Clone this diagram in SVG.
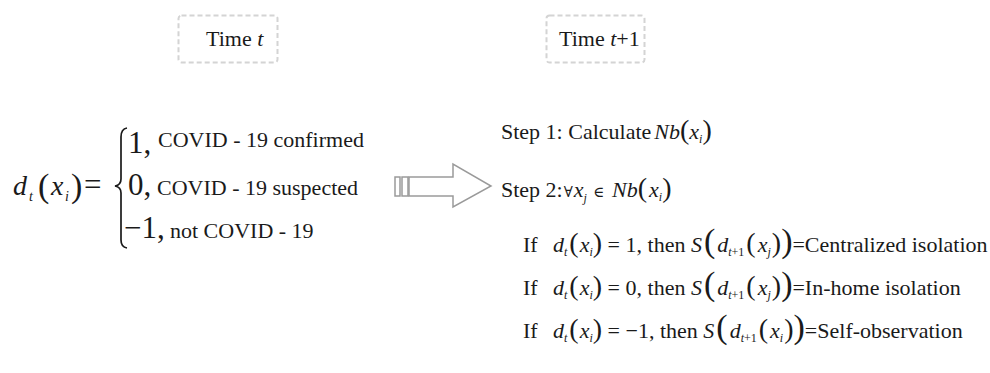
<svg xmlns="http://www.w3.org/2000/svg" width="990" height="373" viewBox="0 0 990 373">
<style>
text{font-family:"Liberation Serif","Times New Roman",serif;fill:#1a1a1a;font-size:22px}
.it{font-style:italic}
.m{font-size:31px}
.mv{font-size:28px;font-style:italic}
.sb{font-size:14px;font-style:italic}
.s{font-size:12px;font-style:italic}
.sn{font-size:12px}
.p{font-size:28px}
.P{font-size:34px}
.sym{font-family:"DejaVu Serif",serif;font-size:15px}
.box{fill:none;stroke:#d4d4d4;stroke-width:2;stroke-dasharray:5,3}
.arr{fill:#fff;stroke:#9a9a9a;stroke-width:1.5}
</style>
<rect width="990" height="373" fill="#fff"/>
<g id="time-t">
<rect class="box" x="178.5" y="15.5" width="99" height="47" rx="3"/>
<text x="206" y="46">Time <tspan class="it">t</tspan></text>
</g>
<g id="time-t1">
<rect class="box" x="546.5" y="15.5" width="98" height="47" rx="3"/>
<text x="559" y="46">Time <tspan class="it">t</tspan>+1</text>
</g>
<g id="definition">
<text x="13" y="195" class="mv">d</text>
<text x="29" y="201" class="sb">t</text>
<text x="38" y="197" class="P">(</text>
<text x="51" y="195" class="mv">x</text>
<text x="65" y="201" class="sb">i</text>
<text x="71" y="197" class="P">)</text>
<text x="84" y="195" class="m">=</text>
<path d="M127,128 Q121,129 121,137 L121,179 Q121,185 115,186 Q121,187 121,193 L121,240 Q121,247 127,248" fill="none" stroke="#1a1a1a" stroke-width="1.7"/>
<text x="128" y="153" class="m">1,</text>
<text x="158" y="147">COVID - 19 confirmed</text>
<text x="128" y="195" class="m">0,</text>
<text x="157" y="195">COVID - 19 suspected</text>
<text x="124" y="238" class="m">−1,</text>
<text x="170" y="238">not COVID - 19</text>
</g>
<g id="connectors">
<rect class="arr" x="395" y="177" width="5" height="19"/>
<rect class="arr" x="402" y="177" width="6" height="19"/>
<polygon class="arr" points="409,177 453,177 453,164 491,186 453,207 453,196 409,196"/>
</g>
<g id="step1">
<text x="501" y="139">Step 1: Calculate<tspan class="it" dx="3">Nb</tspan><tspan class="p">(</tspan><tspan class="it">x</tspan><tspan class="s" dy="4">i</tspan><tspan class="p" dy="-4">)</tspan></text>
</g>
<g id="step2">
<text x="501" y="197">Step 2:<tspan class="sym" dx="1">∀</tspan><tspan class="it" dx="1">x</tspan><tspan class="s" dy="5">j</tspan><tspan dy="-5" dx="6" class="sym">∈</tspan><tspan class="it" dx="8">Nb</tspan><tspan class="p">(</tspan><tspan class="it" dx="2">x</tspan><tspan class="s" dy="4">i</tspan><tspan class="p" dy="-4">)</tspan></text>
</g>
<g id="rule1">
<text x="523" y="252">If<tspan x="553" class="it">d</tspan><tspan class="s" dy="4">t</tspan><tspan class="p" dy="-4" dx="2">(</tspan><tspan class="it" dx="1">x</tspan><tspan class="s" dy="4">i</tspan><tspan class="p" dy="-4">)</tspan> = 1, then <tspan class="it">S</tspan><tspan class="P" dx="2">(</tspan><tspan class="it" dx="2">d</tspan><tspan class="sn" dy="4"><tspan class="it">t</tspan>+1</tspan><tspan class="p" dy="-4" dx="2">(</tspan><tspan class="it" dx="2">x</tspan><tspan class="s" dy="4">j</tspan><tspan class="p" dy="-4" dx="1">)</tspan><tspan class="P">)</tspan>=Centralized isolation</text>
</g>
<g id="rule2">
<text x="523" y="295">If<tspan x="553" class="it">d</tspan><tspan class="s" dy="4">t</tspan><tspan class="p" dy="-4" dx="2">(</tspan><tspan class="it" dx="1">x</tspan><tspan class="s" dy="4">i</tspan><tspan class="p" dy="-4">)</tspan> = 0, then <tspan class="it">S</tspan><tspan class="P" dx="2">(</tspan><tspan class="it" dx="2">d</tspan><tspan class="sn" dy="4"><tspan class="it">t</tspan>+1</tspan><tspan class="p" dy="-4" dx="2">(</tspan><tspan class="it" dx="2">x</tspan><tspan class="s" dy="4">j</tspan><tspan class="p" dy="-4" dx="1">)</tspan><tspan class="P">)</tspan>=In-home isolation</text>
</g>
<g id="rule3">
<text x="523" y="338">If<tspan x="553" class="it">d</tspan><tspan class="s" dy="4">t</tspan><tspan class="p" dy="-4" dx="2">(</tspan><tspan class="it" dx="1">x</tspan><tspan class="s" dy="4">i</tspan><tspan class="p" dy="-4">)</tspan> = −1, then <tspan class="it">S</tspan><tspan class="P" dx="2">(</tspan><tspan class="it" dx="2">d</tspan><tspan class="sn" dy="4"><tspan class="it">t</tspan>+1</tspan><tspan class="p" dy="-4" dx="2">(</tspan><tspan class="it" dx="2">x</tspan><tspan class="s" dy="4">i</tspan><tspan class="p" dy="-4" dx="1">)</tspan><tspan class="P">)</tspan>=Self-observation</text>
</g>
</svg>
